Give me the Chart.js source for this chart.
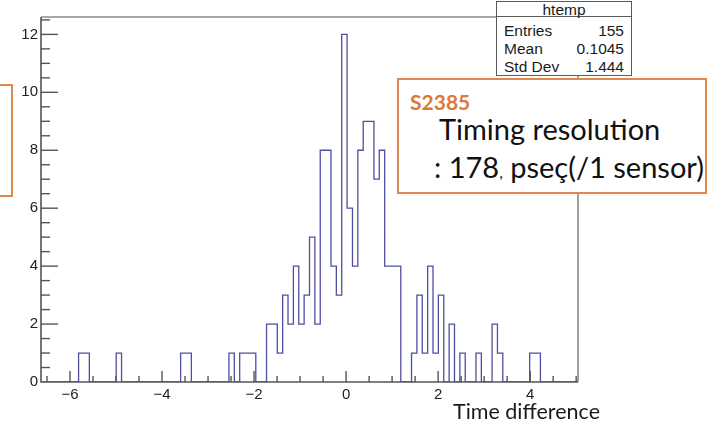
<!DOCTYPE html>
<html><head><meta charset="utf-8">
<script src="https://cdn.jsdelivr.net/npm/chart.js@4.4.0/dist/chart.umd.min.js"></script>
<style>
html,body{margin:0;padding:0;background:#fff;}
#wrap{position:relative;width:712px;height:423px;overflow:hidden;background:#fff;}
#c{position:absolute;left:0;top:0;}
.abs{position:absolute;white-space:nowrap;line-height:1;}
.stats{position:absolute;left:496px;top:1px;width:136px;height:75px;border:1px solid #5a5a5a;background:#fff;box-sizing:border-box;font-family:'Liberation Sans',Arial,sans-serif;font-size:15.5px;color:#1a1a1a;}
.stats .hdr{position:absolute;left:0;top:0;width:100%;height:14px;border-bottom:1px solid #5a5a5a;}
.stats .t{position:absolute;line-height:1;white-space:nowrap;}
.obox{position:absolute;border:2px solid #E0894D;background:#fff;box-sizing:border-box;}
.gill{font-family:Lato,'Open Sans',sans-serif;}
</style>
</head><body>
<div id="wrap">
<canvas id="c" width="712" height="423"></canvas>
<div class="obox" style="left:-30px;top:84px;width:43px;height:113px;background:transparent;"></div>
<div class="stats">
  <div class="hdr"></div>
  <div class="t" style="left:0;width:100%;text-align:center;top:0px;">htemp</div>
  <div class="t" style="left:7px;top:21px;">Entries</div>
  <div class="t" style="right:7px;top:21px;">155</div>
  <div class="t" style="left:7px;top:39px;">Mean</div>
  <div class="t" style="right:7px;top:39px;">0.1045</div>
  <div class="t" style="left:7px;top:57px;">Std Dev</div>
  <div class="t" style="right:7px;top:57px;">1.444</div>
</div>
<div class="obox" style="left:397px;top:78px;width:310px;height:116px;"></div>
<div class="abs gill" style="left:410px;top:91px;font-size:21px;font-weight:700;color:#D97A3C;">S2385</div>
<div class="abs gill" style="left:439px;top:114px;font-size:29px;color:#111;">Timing resolution</div>
<div class="abs gill" style="left:434px;top:152px;font-size:29px;color:#111;">: 178<span style="font-size:16px;">,</span> pseç(/1 sensor)</div>
<div class="abs gill" style="left:453px;top:401px;font-size:21.5px;color:#1a1a1a;">Time difference</div>
</div>
<script>
// ---- data ----
const xMin = -6.63;
const xMax = 5.04;
const yMax = 12.6;
const counts = [
  0,0,0,0,0,0,0,1,1,0,
  0,0,0,0,1,0,0,0,0,0,
  0,0,0,0,0,0,1,1,0,0,
  0,0,0,0,0,1,0,1,1,1,
  0,0,2,2,1,3,2,4,2,3,
  5,2,8,8,4,3,12,6,4,8,
  9,9,7,8,4,4,4,0,0,1,
  3,1,4,1,3,0,2,0,1,0,
  0,1,0,0,2,1,0,0,0,0,
  0,1,1,0,0,0,0,0,0,0
];
const xTicks = [-6,-4,-2,0,2,4];
const yTicks = [0,2,4,6,8,10,12];

// build outline points (bin edges) for the histogram
const binW = (xMax - xMin) / counts.length;
const pts = [];
counts.forEach((c,i)=>{
  const a = xMin + i*binW, b = xMin + (i+1)*binW;
  pts.push({x:a,y:c}); pts.push({x:b,y:c});
});

const fmt = v => v < 0 ? '\u2212' + Math.abs(v) : String(v);

const frame = {
  id:'frame',
  afterDraw(chart){
    const {ctx, chartArea:ca, scales:{x,y}} = chart;
    ctx.save();
    ctx.lineCap='butt';
    ctx.strokeStyle='#8a8a8a'; ctx.lineWidth=1.6;
    ctx.beginPath(); ctx.moveTo(ca.left,ca.top); ctx.lineTo(ca.right,ca.top); ctx.lineTo(ca.right,ca.bottom); ctx.stroke();
    ctx.strokeStyle='#555'; ctx.lineWidth=1.6;
    ctx.beginPath(); ctx.moveTo(ca.left,ca.top); ctx.lineTo(ca.left,ca.bottom); ctx.lineTo(ca.right,ca.bottom); ctx.stroke();
    ctx.lineWidth=1.4; ctx.strokeStyle='#555';
    for(let v=0.5; v<=yMax+1e-9; v+=0.5){
      const py=y.getPixelForValue(v);
      const major = Math.abs(v/2 - Math.round(v/2))<1e-6;
      ctx.beginPath(); ctx.moveTo(ca.left,py); ctx.lineTo(ca.left+(major?17:9),py); ctx.stroke();
    }
    for(let v=-6.5; v<=xMax+1e-9; v+=0.5){
      const px=x.getPixelForValue(v);
      const major = Math.abs(v/2 - Math.round(v/2))<1e-6;
      ctx.beginPath(); ctx.moveTo(px,ca.bottom); ctx.lineTo(px,ca.bottom-(major?11:6)); ctx.stroke();
    }
    ctx.restore();
  }
};

new Chart(document.getElementById('c'), {
  type:'line',
  data:{datasets:[{data:pts, borderColor:'#4f4f9f', borderWidth:1.3, pointRadius:0, fill:false, tension:0}]},
  options:{
    responsive:false, animation:false, events:[],
    layout:{padding:{left:0,right:134,top:17,bottom:0}},
    plugins:{legend:{display:false}, tooltip:{enabled:false}},
    scales:{
      x:{type:'linear', min:xMin, max:xMax,
         grid:{display:false, drawTicks:false}, border:{display:false},
         afterBuildTicks:s=>{s.ticks = xTicks.map(v=>({value:v}));},
         afterFit:s=>{s.height=41;},
         ticks:{callback:v=>fmt(v), autoSkip:false, maxRotation:0, padding:4,
                color:'#222', font:{family:'Liberation Sans', size:15}}},
      y:{type:'linear', min:0, max:yMax,
         grid:{display:false, drawTicks:false}, border:{display:false},
         afterBuildTicks:s=>{s.ticks = yTicks.map(v=>({value:v}));},
         afterFit:s=>{s.width=41;},
         ticks:{callback:v=>fmt(v), autoSkip:false, padding:3,
                color:'#222', font:{family:'Liberation Sans', size:15}}}
    }
  },
  plugins:[frame]
});
</script>
</body></html>
